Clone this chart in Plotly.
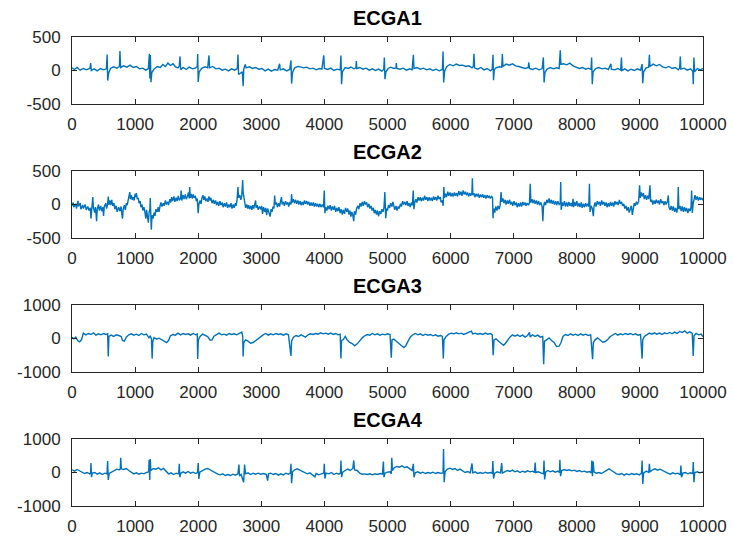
import plotly.graph_objects as go

TITLES = ["ECGA1", "ECGA2", "ECGA3", "ECGA4"]
X_TICKS = [0, 1000, 2000, 3000, 4000, 5000, 6000, 7000, 8000, 9000, 10000]
Y_TICKS_SMALL = [-500, 0, 500]
Y_TICKS_LARGE = [-1000, 0, 1000]

# (sample index, amplitude)
ECGA1 = [(0,40),(40,15),(80,45),(130,5),(180,30),(230,10),(285,35),(296,110),(306,0),(350,25),(400,-5),(450,30),(500,10),(545,25),(557,240),(566,-150),(580,-40),(610,30),(660,55),(710,35),(752,60),(760,290),(770,45),(820,70),(870,50),(920,80),(970,45),(1020,60),(1070,25),(1120,35),(1170,5),(1210,30),(1226,250),(1234,-120),(1242,230),(1252,-175),(1265,-30),(1300,20),(1350,60),(1400,45),(1440,90),(1480,60),(1520,110),(1560,75),(1600,100),(1640,55),(1680,40),(1700,70),(1712,210),(1722,10),(1760,45),(1810,15),(1860,50),(1910,25),(1960,40),(1985,60),(1992,245),(2000,-170),(2015,-20),(2060,35),(2110,55),(2150,40),(2171,225),(2180,40),(2230,60),(2280,25),(2330,35),(2380,5),(2430,20),(2480,-5),(2530,25),(2580,5),(2620,30),(2630,240),(2640,-60),(2700,-20),(2712,-235),(2722,20),(2745,90),(2760,40),(2810,55),(2860,30),(2910,45),(2960,20),(3010,30),(3060,-5),(3110,20),(3160,-10),(3210,15),(3260,5),(3290,100),(3300,10),(3350,25),(3400,-5),(3450,15),(3470,150),(3480,-195),(3495,-30),(3530,40),(3580,60),(3620,55),(3670,40),(3720,50),(3770,25),(3820,35),(3870,10),(3920,30),(3960,20),(3990,225),(4000,30),(4050,15),(4100,35),(4150,0),(4200,20),(4250,10),(4262,225),(4272,-205),(4285,-20),(4330,45),(4380,30),(4420,50),(4470,25),(4500,40),(4506,140),(4514,30),(4560,45),(4610,20),(4660,35),(4710,5),(4760,25),(4810,0),(4860,20),(4910,-10),(4940,15),(4950,195),(4960,-130),(4975,-20),(5010,30),(5050,50),(5100,30),(5135,40),(5140,110),(5148,30),(5200,20),(5250,35),(5300,5),(5350,25),(5390,10),(5410,235),(5420,30),(5470,45),(5520,20),(5570,35),(5620,10),(5670,25),(5720,0),(5770,20),(5820,-5),(5870,15),(5880,285),(5890,-180),(5905,-10),(5940,60),(5990,90),(6040,70),(6090,95),(6140,75),(6190,80),(6240,60),(6290,70),(6340,40),(6360,60),(6370,250),(6380,40),(6430,20),(6480,45),(6530,10),(6580,30),(6630,-5),(6660,20),(6672,235),(6680,-145),(6692,10),(6720,40),(6770,55),(6810,50),(6820,245),(6830,60),(6880,95),(6930,80),(6980,100),(7030,70),(7080,60),(7130,40),(7180,30),(7230,45),(7240,120),(7250,30),(7300,15),(7350,35),(7400,10),(7450,25),(7470,195),(7482,-180),(7495,-30),(7530,20),(7580,45),(7630,25),(7680,40),(7720,30),(7738,300),(7748,90),(7790,100),(7840,85),(7890,110),(7940,70),(7990,45),(8040,30),(8090,45),(8140,20),(8190,35),(8225,15),(8235,195),(8245,-205),(8258,-20),(8300,30),(8350,45),(8400,25),(8450,35),(8500,15),(8540,100),(8548,20),(8600,10),(8650,30),(8695,5),(8708,195),(8716,0),(8760,25),(8810,-5),(8860,20),(8910,0),(8960,25),(9010,5),(9035,95),(9045,-190),(9058,-20),(9100,40),(9140,50),(9150,235),(9160,60),(9210,95),(9260,70),(9310,90),(9360,55),(9410,40),(9460,60),(9510,30),(9560,45),(9610,10),(9630,40),(9640,210),(9650,20),(9700,35),(9750,5),(9800,25),(9838,-10),(9846,-205),(9856,195),(9866,-20),(9910,30),(9960,10),(10000,30)]

ECGA2 = [(0,-20),(20,30),(28,-40),(60,10),(70,-60),(95,55),(102,-30),(130,20),(140,-70),(170,-10),(180,-60),(210,0),(225,-80),(250,-30),(270,-90),(290,-50),(300,-210),(312,-60),(325,40),(330,110),(338,-40),(360,-120),(372,-40),(390,-250),(400,-70),(420,0),(432,-90),(455,-20),(470,-100),(490,-40),(500,-170),(512,-30),(535,20),(548,-60),(565,10),(575,120),(585,0),(600,60),(612,-10),(630,70),(645,-20),(665,20),(680,-70),(700,-20),(715,-110),(740,-40),(760,-100),(778,-30),(790,-140),(800,-210),(812,-70),(830,-10),(845,-80),(862,20),(875,-10),(890,90),(905,150),(915,185),(925,80),(940,140),(955,70),(970,110),(985,60),(1000,160),(1012,110),(1020,170),(1035,80),(1050,100),(1062,20),(1080,50),(1092,-40),(1110,0),(1122,-90),(1140,-40),(1155,-110),(1170,-210),(1182,-80),(1195,-150),(1210,-270),(1222,-120),(1235,-60),(1240,95),(1248,-210),(1257,-375),(1268,-160),(1285,-210),(1300,-120),(1315,-170),(1330,-70),(1350,-110),(1365,-40),(1380,-110),(1395,-20),(1410,30),(1425,-30),(1445,20),(1460,-20),(1480,60),(1495,0),(1515,40),(1530,-10),(1550,80),(1565,30),(1580,110),(1595,50),(1615,120),(1630,40),(1650,100),(1665,50),(1685,130),(1700,60),(1720,90),(1730,210),(1740,60),(1760,140),(1775,80),(1795,150),(1810,80),(1830,120),(1845,180),(1858,90),(1865,260),(1875,100),(1890,160),(1905,90),(1920,150),(1935,100),(1955,130),(1970,50),(1985,90),(2000,-130),(2010,0),(2030,60),(2045,10),(2060,100),(2075,140),(2090,70),(2105,120),(2120,50),(2140,90),(2155,40),(2170,120),(2185,60),(2200,100),(2220,20),(2240,70),(2255,10),(2275,60),(2290,-10),(2310,40),(2325,-20),(2345,50),(2360,-10),(2380,30),(2395,-40),(2415,20),(2430,-30),(2450,30),(2465,-50),(2485,0),(2500,-40),(2520,20),(2535,-60),(2555,0),(2570,-50),(2590,20),(2600,-20),(2615,60),(2630,260),(2640,100),(2660,140),(2675,70),(2690,120),(2705,365),(2712,180),(2725,80),(2740,50),(2752,-50),(2770,0),(2785,-60),(2800,-10),(2815,-70),(2835,-20),(2850,-80),(2865,-10),(2880,-60),(2895,0),(2910,60),(2918,-50),(2935,-10),(2950,-80),(2970,-30),(2990,-70),(3005,-20),(3020,-140),(3035,-40),(3055,-110),(3070,-50),(3085,-160),(3100,-60),(3120,-120),(3140,-180),(3155,-70),(3170,-110),(3185,-30),(3200,-60),(3212,135),(3222,0),(3240,30),(3255,-40),(3275,20),(3290,-30),(3305,50),(3320,110),(3330,0),(3350,40),(3365,-20),(3385,50),(3400,0),(3420,30),(3435,-30),(3455,40),(3470,0),(3480,155),(3490,30),(3510,80),(3525,20),(3545,70),(3560,10),(3580,60),(3595,0),(3615,50),(3630,-10),(3650,40),(3665,-10),(3685,60),(3700,10),(3720,50),(3735,0),(3755,40),(3770,-20),(3790,30),(3805,-20),(3825,30),(3840,-30),(3860,20),(3875,-30),(3895,10),(3910,-40),(3930,10),(3945,-40),(3965,0),(3985,-40),(3998,210),(4008,-130),(4020,-40),(4040,-90),(4055,-20),(4075,-70),(4090,-10),(4110,-90),(4125,-30),(4145,-80),(4160,-20),(4180,-110),(4195,-50),(4215,-100),(4230,-40),(4250,-130),(4265,-70),(4285,-150),(4300,-80),(4320,-140),(4335,-50),(4355,-110),(4370,-60),(4390,-150),(4405,-90),(4420,-180),(4435,-110),(4450,-160),(4465,-250),(4475,-100),(4495,-150),(4510,-60),(4530,-20),(4545,-70),(4565,20),(4580,-30),(4600,40),(4615,-20),(4635,50),(4650,0),(4670,30),(4685,-40),(4705,10),(4720,-60),(4740,-20),(4755,-90),(4775,-50),(4790,-130),(4805,-80),(4825,-150),(4840,-90),(4860,-175),(4875,-100),(4895,-140),(4910,-70),(4930,-110),(4945,-40),(4958,185),(4966,-30),(4972,-205),(4985,-60),(5000,-90),(5015,-10),(5035,-50),(5050,20),(5070,-30),(5085,40),(5100,-40),(5115,-80),(5135,-20),(5150,-90),(5170,-30),(5185,-60),(5205,10),(5220,-30),(5240,50),(5255,0),(5275,40),(5290,-10),(5310,50),(5325,-20),(5345,20),(5360,-40),(5380,30),(5395,-10),(5408,210),(5418,-70),(5430,20),(5450,80),(5465,30),(5485,110),(5500,60),(5520,110),(5535,50),(5555,100),(5570,60),(5590,130),(5605,70),(5625,110),(5640,50),(5660,110),(5675,60),(5695,100),(5710,50),(5730,120),(5745,70),(5765,110),(5780,60),(5800,130),(5815,80),(5835,110),(5850,30),(5870,60),(5882,-20),(5893,260),(5903,100),(5920,160),(5935,110),(5955,190),(5970,130),(5990,180),(6005,120),(6025,170),(6040,120),(6060,180),(6075,130),(6095,170),(6110,120),(6130,200),(6145,140),(6165,190),(6180,130),(6200,210),(6215,150),(6235,190),(6250,140),(6270,180),(6285,120),(6305,170),(6320,130),(6338,180),(6345,390),(6352,140),(6370,170),(6385,110),(6405,160),(6420,120),(6440,160),(6455,100),(6475,150),(6490,110),(6510,150),(6525,100),(6545,140),(6560,90),(6580,140),(6595,100),(6615,130),(6630,90),(6650,120),(6665,100),(6672,-205),(6682,-60),(6700,-120),(6715,-30),(6735,-90),(6750,-20),(6770,-70),(6785,-10),(6800,185),(6810,40),(6830,90),(6845,20),(6865,70),(6880,0),(6900,60),(6915,10),(6935,70),(6950,0),(6970,40),(6985,-20),(7005,50),(7020,-10),(7040,30),(7055,-40),(7075,20),(7090,-30),(7110,30),(7125,-30),(7145,40),(7160,-10),(7180,30),(7195,-20),(7215,20),(7235,-10),(7250,30),(7262,310),(7272,30),(7290,80),(7305,20),(7325,70),(7340,10),(7360,60),(7375,0),(7395,50),(7410,-10),(7430,30),(7450,-30),(7462,-250),(7472,-40),(7490,40),(7505,-10),(7525,70),(7540,20),(7560,90),(7575,20),(7595,70),(7610,10),(7630,60),(7645,0),(7665,50),(7680,-10),(7700,50),(7720,0),(7738,20),(7745,335),(7752,-80),(7770,30),(7785,-20),(7805,50),(7820,-30),(7840,30),(7855,-30),(7875,40),(7890,-20),(7910,20),(7925,-30),(7940,85),(7948,-40),(7965,40),(7980,-20),(8000,50),(8015,-30),(8035,20),(8050,-40),(8070,30),(8085,-50),(8105,10),(8120,-40),(8140,20),(8155,-30),(8175,10),(8190,-30),(8200,310),(8210,-110),(8225,-20),(8245,-60),(8262,-175),(8272,-30),(8290,30),(8305,-30),(8325,50),(8340,0),(8360,40),(8375,-20),(8395,60),(8410,0),(8430,40),(8445,-20),(8465,30),(8480,-40),(8500,20),(8515,-30),(8535,40),(8550,-20),(8570,30),(8585,-30),(8605,50),(8620,0),(8640,40),(8655,-10),(8675,70),(8690,10),(8710,40),(8725,-20),(8745,10),(8760,-60),(8780,-20),(8795,-90),(8815,-40),(8830,-120),(8850,-60),(8865,-20),(8880,-155),(8892,-40),(8910,20),(8925,-20),(8945,40),(8960,0),(8980,50),(8995,285),(9005,100),(9020,180),(9035,120),(9055,170),(9070,80),(9090,140),(9105,70),(9125,130),(9140,80),(9160,285),(9170,40),(9190,70),(9205,0),(9225,60),(9240,10),(9260,70),(9275,20),(9295,60),(9310,0),(9330,80),(9345,20),(9365,50),(9380,-10),(9400,50),(9415,0),(9435,40),(9450,135),(9460,-40),(9480,-80),(9495,-20),(9515,-90),(9530,-30),(9550,-110),(9565,-50),(9585,-120),(9600,-30),(9608,260),(9618,-70),(9635,-20),(9655,-100),(9670,-30),(9690,-110),(9705,-40),(9725,-100),(9740,-50),(9760,-130),(9775,-60),(9795,-100),(9810,-40),(9820,210),(9830,-125),(9845,20),(9860,90),(9875,140),(9890,70),(9910,120),(9925,60),(9945,110),(9960,70),(9980,100),(10000,60)]

ECGA3 = [(0,40),(30,-10),(60,40),(90,-60),(120,-100),(150,-40),(180,160),(220,110),(260,150),(300,120),(340,170),(380,100),(420,140),(460,110),(500,150),(540,120),(565,140),(575,-540),(585,60),(620,100),(660,60),(700,110),(740,90),(780,60),(800,-60),(830,-80),(860,40),(900,110),(940,140),(980,100),(1020,130),(1060,90),(1100,150),(1140,110),(1180,130),(1220,20),(1240,80),(1260,-20),(1270,-600),(1280,-100),(1300,30),(1340,-20),(1380,10),(1420,-30),(1460,-70),(1500,-120),(1530,-60),(1560,80),(1600,120),(1640,100),(1680,160),(1720,110),(1760,150),(1800,120),(1840,140),(1880,100),(1920,150),(1960,110),(1985,130),(1992,-610),(2002,-40),(2030,60),(2070,130),(2110,90),(2150,60),(2190,-50),(2220,-40),(2250,70),(2290,120),(2330,160),(2370,110),(2410,130),(2450,100),(2490,150),(2530,120),(2570,140),(2610,110),(2650,150),(2690,190),(2705,80),(2712,-540),(2722,-120),(2750,-40),(2790,-80),(2830,-140),(2870,-120),(2910,-60),(2950,0),(2990,70),(3030,110),(3070,150),(3110,100),(3150,140),(3190,110),(3230,150),(3270,120),(3310,140),(3350,100),(3390,140),(3430,110),(3470,-520),(3480,-80),(3510,40),(3550,90),(3590,60),(3630,110),(3670,70),(3700,40),(3740,110),(3780,140),(3820,120),(3860,150),(3900,130),(3940,170),(3980,140),(4020,160),(4060,130),(4100,160),(4140,120),(4180,150),(4220,110),(4250,130),(4262,-600),(4272,-60),(4300,-30),(4330,60),(4360,-40),(4400,-120),(4440,-150),(4480,-220),(4520,-160),(4560,-60),(4600,20),(4640,80),(4680,120),(4720,100),(4760,150),(4800,110),(4840,140),(4880,100),(4920,130),(4960,110),(5000,140),(5040,120),(5060,-570),(5072,-40),(5100,-20),(5140,-80),(5180,-160),(5220,-210),(5260,-270),(5290,-220),(5320,-100),(5360,40),(5400,110),(5440,150),(5480,110),(5520,140),(5560,90),(5600,130),(5640,100),(5680,120),(5720,80),(5760,110),(5800,70),(5840,90),(5870,60),(5885,-600),(5895,-40),(5930,60),(5970,130),(6010,160),(6050,140),(6090,170),(6130,140),(6170,160),(6210,120),(6250,150),(6290,170),(6330,220),(6350,140),(6390,160),(6430,130),(6470,150),(6510,120),(6550,160),(6590,130),(6630,150),(6660,110),(6675,-500),(6688,-40),(6720,-10),(6760,-80),(6800,-150),(6840,-200),(6870,-140),(6900,-60),(6940,40),(6980,110),(7020,70),(7060,110),(7100,60),(7140,100),(7180,40),(7220,90),(7250,180),(7260,50),(7300,110),(7340,60),(7380,100),(7420,40),(7460,60),(7475,-770),(7488,-80),(7520,-40),(7560,20),(7600,-60),(7640,-120),(7680,-240),(7720,-230),(7750,-120),(7780,60),(7820,120),(7860,90),(7900,140),(7940,100),(7980,130),(8020,90),(8060,140),(8100,100),(8140,130),(8180,90),(8220,110),(8250,-620),(8262,-120),(8290,-40),(8330,20),(8370,-60),(8410,-110),(8450,-90),(8490,-30),(8530,60),(8570,110),(8610,150),(8650,100),(8690,140),(8730,110),(8770,150),(8810,120),(8850,150),(8890,110),(8930,140),(8970,100),(9010,120),(9035,-600),(9045,-40),(9070,60),(9110,120),(9150,160),(9190,130),(9230,170),(9270,130),(9310,160),(9350,120),(9390,170),(9430,140),(9470,180),(9510,140),(9550,190),(9590,150),(9630,210),(9670,180),(9710,230),(9750,160),(9790,200),(9830,150),(9845,-520),(9858,80),(9890,150),(9930,110),(9970,130),(10000,50)]

ECGA4 = [(0,80),(40,40),(80,90),(120,50),(160,10),(200,-30),(240,0),(280,-40),(295,-20),(300,280),(310,-140),(320,-20),(360,0),(400,-50),(440,-10),(480,-60),(520,-20),(555,-40),(565,340),(575,-220),(590,-30),(630,20),(670,60),(710,100),(750,80),(765,100),(772,440),(782,110),(820,90),(860,120),(900,60),(940,20),(980,-40),(1020,-10),(1060,-50),(1100,-20),(1140,-40),(1180,0),(1215,20),(1222,380),(1232,-220),(1240,400),(1250,60),(1290,120),(1330,100),(1370,140),(1410,80),(1450,120),(1490,40),(1530,-40),(1570,-10),(1610,-60),(1650,-20),(1690,-40),(1700,260),(1710,-140),(1725,-20),(1760,20),(1800,-20),(1840,30),(1880,-20),(1920,10),(1960,-30),(1990,0),(2000,280),(2010,-190),(2025,10),(2070,60),(2110,100),(2150,120),(2190,80),(2230,40),(2270,-20),(2310,-50),(2350,-70),(2390,-40),(2430,-90),(2470,-60),(2510,-90),(2550,-50),(2590,-80),(2630,-40),(2645,240),(2655,-100),(2680,-60),(2720,-290),(2735,240),(2750,-40),(2790,-10),(2830,-60),(2870,-20),(2910,-50),(2950,-20),(2990,-50),(3040,-30),(3080,-60),(3100,-240),(3115,-40),(3150,-20),(3190,-60),(3230,-30),(3270,-80),(3310,-40),(3350,-70),(3390,-20),(3430,-50),(3460,-20),(3470,260),(3480,-320),(3495,20),(3530,80),(3570,110),(3610,70),(3650,30),(3690,-10),(3730,-40),(3770,-10),(3810,-60),(3850,-130),(3870,-30),(3910,-70),(3950,-40),(3990,-20),(3998,260),(4008,-180),(4025,-20),(4070,-40),(4110,0),(4150,-60),(4190,-20),(4230,-50),(4255,-10),(4262,360),(4272,-140),(4290,10),(4330,60),(4370,100),(4410,60),(4450,120),(4465,360),(4478,80),(4520,60),(4560,-20),(4600,-50),(4640,-40),(4680,-60),(4720,-40),(4760,-70),(4800,-40),(4840,-60),(4880,-30),(4920,-50),(4935,330),(4945,-140),(4960,-20),(5000,10),(5040,20),(5060,-40),(5068,440),(5078,60),(5110,150),(5150,180),(5190,160),(5230,200),(5270,150),(5310,170),(5350,100),(5390,60),(5410,260),(5420,-140),(5440,-10),(5480,20),(5520,-20),(5560,10),(5600,-30),(5640,0),(5680,-20),(5720,10),(5760,-30),(5800,0),(5840,-20),(5880,-10),(5888,700),(5898,-290),(5912,20),(5950,100),(5990,130),(6030,90),(6070,120),(6110,60),(6150,100),(6190,40),(6230,0),(6270,30),(6310,-10),(6340,270),(6350,-10),(6390,20),(6430,-30),(6470,0),(6510,-30),(6550,10),(6590,-20),(6630,0),(6660,-20),(6670,340),(6680,-180),(6700,-20),(6740,20),(6790,-10),(6810,280),(6820,-20),(6860,20),(6900,60),(6940,30),(6980,70),(7020,20),(7060,50),(7100,0),(7140,40),(7180,10),(7220,50),(7260,20),(7300,40),(7330,0),(7340,300),(7350,0),(7390,20),(7440,-20),(7472,-40),(7480,360),(7490,-210),(7505,10),(7540,60),(7580,20),(7620,50),(7660,10),(7700,40),(7725,0),(7732,380),(7742,-110),(7760,60),(7800,90),(7840,60),(7880,80),(7920,50),(7960,70),(8000,30),(8040,60),(8080,20),(8120,40),(8160,10),(8200,30),(8230,-10),(8238,360),(8248,-110),(8260,330),(8272,20),(8310,-20),(8350,0),(8390,-30),(8430,10),(8470,60),(8510,110),(8550,60),(8590,10),(8630,-40),(8670,-60),(8710,-30),(8750,-80),(8790,-40),(8830,-70),(8870,-30),(8910,-60),(8950,-40),(8990,-70),(9025,-20),(9035,360),(9045,-340),(9058,-20),(9100,40),(9140,0),(9150,260),(9160,20),(9200,80),(9240,110),(9280,70),(9320,100),(9360,60),(9400,0),(9440,-20),(9480,-50),(9520,-10),(9560,-40),(9600,-20),(9640,-60),(9650,210),(9660,-140),(9680,-20),(9720,0),(9760,-40),(9800,-10),(9838,-30),(9846,310),(9856,-290),(9870,0),(9910,20),(9950,-10),(10000,20)]

SERIES = [ECGA1, ECGA2, ECGA3, ECGA4]
Y_RANGES = [[-500, 500], [-500, 500], [-1000, 1000], [-1000, 1000]]
Y_TICKS = [Y_TICKS_SMALL, Y_TICKS_SMALL, Y_TICKS_LARGE, Y_TICKS_LARGE]

W, H = 733, 541
X_LEFT, X_RIGHT = 72, 703
PANEL_TOPS = [37, 171, 305, 439]
PANEL_H = 67

LINE_COLOR = "#0072BD"
AX_COLOR = "#262626"
FONT = "Liberation Sans, Arial, Helvetica, sans-serif"

fig = go.Figure()
for i, data in enumerate(SERIES):
    n = "" if i == 0 else str(i + 1)
    fig.add_trace(go.Scatter(
        x=[p[0] for p in data], y=[p[1] for p in data],
        mode="lines", line=dict(color=LINE_COLOR, width=1.4),
        xaxis="x" + n, yaxis="y" + n, showlegend=False, hoverinfo="skip"))
    top = 1 - PANEL_TOPS[i] / H
    bot = 1 - (PANEL_TOPS[i] + PANEL_H) / H
    common = dict(showline=True, linecolor=AX_COLOR, linewidth=1, mirror="ticks",
                  ticks="inside", ticklen=5, tickcolor=AX_COLOR, tickwidth=1,
                  showgrid=False, zeroline=False, automargin=False,
                  tickfont=dict(family=FONT, size=17, color=AX_COLOR))
    fig.layout["xaxis" + n] = dict(domain=[X_LEFT / W, X_RIGHT / W], range=[0, 10000],
                                   tickvals=X_TICKS, ticktext=[str(v) for v in X_TICKS],
                                   anchor="y" + n, ticklabelstandoff=5, **common)
    fig.layout["yaxis" + n] = dict(domain=[bot, top], range=Y_RANGES[i],
                                   tickvals=Y_TICKS[i], ticktext=[str(v) for v in Y_TICKS[i]],
                                   anchor="x" + n, ticklabelstandoff=7, **common)
    fig.add_annotation(text="<b>" + TITLES[i] + "</b>", x=0.5, xref="x" + n + " domain",
                       y=top, yref="paper", yanchor="bottom", yshift=6, showarrow=False,
                       font=dict(family=FONT, size=20, color="#000000"))

fig.update_layout(width=W, height=H,
                  margin=dict(l=0, r=0, t=0, b=0, pad=0, autoexpand=False),
                  paper_bgcolor="white", plot_bgcolor="white")
fig.write_html("out.html")
